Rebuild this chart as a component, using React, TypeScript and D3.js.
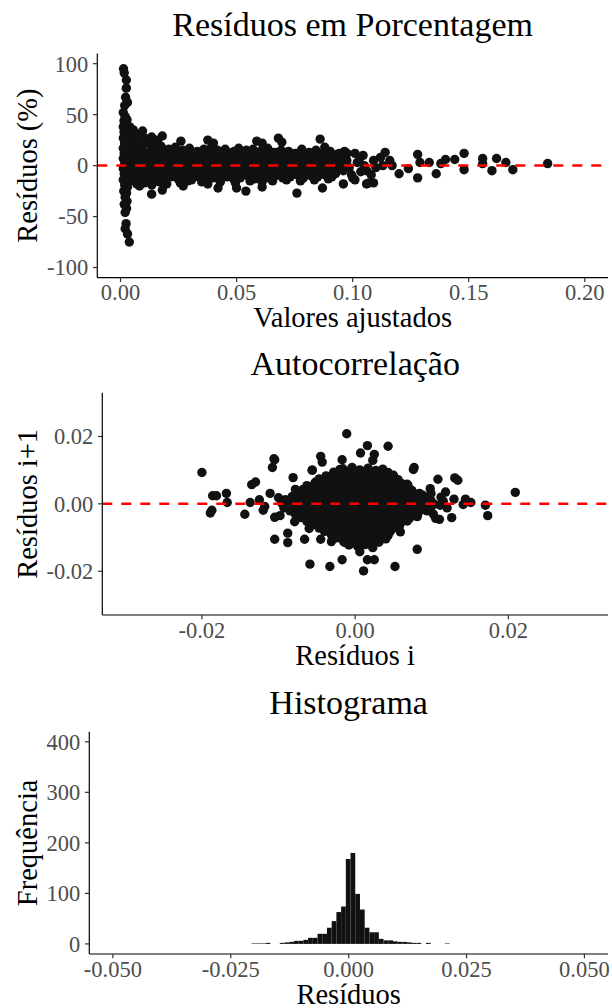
import React from 'react';
import * as d3 from 'd3';

const FONT = '"Liberation Serif", "Times New Roman", serif';
const TICK_TEXT = '#4d4d4d';
const DOT = '#111111';

// --- Panel 1: residuals (%) vs fitted values ---
const pctColumn: [number, number][] = [
  [0.0013, 95], [0.0016, 91], [0.0025, 84], [0.0025, 76], [0.0022, 67], [0.0018, 59], [0.003, 62],
  [0.0012, 52], [0.002, 48], [0.0015, 44], [0.0028, 45], [0.0012, 38], [0.0022, 40], [0.0035, 37],
  [0.0015, 33], [0.003, 32], [0.0045, 34], [0.0012, 27], [0.0024, 28], [0.004, 29], [0.0018, 22],
  [0.0032, 23], [0.005, 25], [0.0012, 17], [0.0026, 18], [0.0042, 19], [0.0016, 12], [0.003, 13],
  [0.005, 14], [0.0012, 7], [0.0024, 8], [0.0038, 9], [0.0018, 2], [0.0032, 3], [0.0048, 4],
  [0.0012, -3], [0.0026, -2], [0.004, -4], [0.0016, -8], [0.0032, -9], [0.0012, -14], [0.0026, -13],
  [0.004, -15], [0.0018, -19], [0.003, -21], [0.0014, -25], [0.0026, -27], [0.002, -31], [0.0028, -35],
  [0.0016, -38], [0.0026, -42], [0.002, -46], [0.0024, -57], [0.002, -62], [0.003, -67], [0.0038, -75],
  [0.004, 38], [0.0055, 35], [0.0072, 30], [0.0095, 34], [0.0068, 24], [0.0105, 27], [0.0134, 28],
  [0.016, 25], [0.018, 29], [0.0125, 22], [0.0085, 26], [0.015, 21],
];

const pctBand: [number, number][] = [
  [0.0062, 21], [0.0091, 18], [0.0118, 22], [0.0147, 17], [0.0175, 19], [0.0208, 16], [0.0236, 18],
  [0.0268, 15], [0.0297, 17], [0.0331, 14], [0.0359, 16], [0.0392, 18], [0.0418, 15], [0.0451, 16],
  [0.0483, 13], [0.0509, 17], [0.0542, 15], [0.0571, 16], [0.0603, 14], [0.0634, 17], [0.0659, 13],
  [0.0692, 15], [0.0724, 14], [0.0752, 12], [0.0781, 16], [0.0813, 13], [0.0842, 15], [0.0871, 12],
  [0.0903, 14], [0.0932, 11],
  [0.0055, 11], [0.0084, 9], [0.0112, 12], [0.0139, 8], [0.0171, 10], [0.0199, 9], [0.0228, 11],
  [0.0259, 8], [0.0288, 10], [0.0316, 9], [0.0347, 11], [0.0378, 8], [0.0405, 10], [0.0437, 9],
  [0.0466, 7], [0.0497, 10], [0.0525, 8], [0.0558, 9], [0.0587, 7], [0.0619, 10], [0.0648, 8],
  [0.0677, 9], [0.0709, 7], [0.0738, 9], [0.0768, 8], [0.0797, 6], [0.0828, 8], [0.0857, 7],
  [0.0889, 9], [0.0918, 6], [0.0948, 8],
  [0.0062, 3], [0.0093, 1], [0.0121, 4], [0.0152, 2], [0.0183, 0], [0.0212, 3], [0.0243, 1],
  [0.0274, 2], [0.0301, -1], [0.0334, 2], [0.0363, 0], [0.0394, 3], [0.0422, 1], [0.0453, -1],
  [0.0481, 2], [0.0512, 0], [0.0544, 1], [0.0573, -1], [0.0602, 2], [0.0636, 0], [0.0664, 1],
  [0.0695, -1], [0.0726, 2], [0.0755, 0], [0.0784, 1], [0.0816, -1], [0.0845, 1], [0.0874, 0],
  [0.0905, 2], [0.0936, -1],
  [0.0058, -5], [0.0087, -4], [0.0116, -6], [0.0144, -5], [0.0176, -7], [0.0204, -4], [0.0233, -6],
  [0.0263, -5], [0.0292, -7], [0.0322, -4], [0.0352, -6], [0.0383, -5], [0.0411, -7], [0.0441, -4],
  [0.0472, -6], [0.0501, -5], [0.0531, -7], [0.0562, -4], [0.0592, -6], [0.0623, -5], [0.0653, -4],
  [0.0683, -6], [0.0713, -5], [0.0743, -3], [0.0772, -5], [0.0803, -4], [0.0833, -6], [0.0861, -3],
  [0.0893, -5], [0.0924, -3], [0.0955, -4],
  [0.0065, -12], [0.0095, -11], [0.0125, -13], [0.0156, -12], [0.0187, -14], [0.0217, -11],
  [0.0248, -13], [0.0279, -12], [0.0306, -14], [0.0338, -11], [0.0368, -13], [0.0397, -12],
  [0.0426, -14], [0.0458, -11], [0.0487, -13], [0.0516, -12], [0.0548, -10], [0.0578, -13],
  [0.0607, -11], [0.0639, -12], [0.0668, -10], [0.0699, -12], [0.0731, -11], [0.076, -9],
  [0.0788, -12], [0.082, -10], [0.0849, -11], [0.088, -9], [0.091, -11],
  [0.007, -18], [0.0104, -17], [0.0135, -19], [0.0168, -16], [0.0199, -18], [0.0258, -17],
  [0.029, -15], [0.035, -16], [0.0376, -18], [0.043, -16], [0.0495, -17], [0.0558, -15],
  [0.061, -16], [0.0655, -15], [0.0715, -14], [0.0775, -15], [0.0835, -14], [0.0895, -13],
];

// interleaved points that sit between the rows above
const pctBandFill: [number, number][] = [
  [0.0075, 14], [0.0104, 13], [0.0133, 15], [0.0161, 12], [0.019, 14], [0.0221, 13], [0.0251, 12],
  [0.0282, 14], [0.031, 12], [0.0342, 13], [0.0371, 14], [0.0401, 12], [0.0431, 13], [0.0459, 12],
  [0.049, 14], [0.052, 12], [0.0553, 13], [0.058, 12], [0.0612, 13], [0.0641, 11], [0.0673, 13],
  [0.0702, 12], [0.0734, 11], [0.0763, 12], [0.0793, 10], [0.0825, 12], [0.0853, 10], [0.0884, 11],
  [0.0914, 10], [0.0943, 12],
  [0.0072, 6], [0.0101, 5], [0.0131, 7], [0.0163, 5], [0.0192, 6], [0.0222, 5], [0.0252, 6],
  [0.0283, 4], [0.0312, 6], [0.0341, 5], [0.0372, 6], [0.0402, 4], [0.0432, 6], [0.0462, 5],
  [0.0492, 4], [0.0521, 6], [0.055, 4], [0.0582, 5], [0.0612, 4], [0.0643, 6], [0.0671, 4],
  [0.0703, 5], [0.0732, 3], [0.0762, 5], [0.0791, 4], [0.0822, 3], [0.0851, 5], [0.0882, 3],
  [0.0912, 4], [0.0941, 3],
  [0.0077, -2], [0.0106, -1], [0.0136, -3], [0.0167, -2], [0.0196, -1], [0.0226, -3], [0.0257, -2],
  [0.0286, -2], [0.0315, -3], [0.0345, -1], [0.0375, -2], [0.0405, -1], [0.0436, -3], [0.0466, -2],
  [0.0495, -3], [0.0526, -1], [0.0556, -2], [0.0585, -3], [0.0616, -1], [0.0646, -2], [0.0677, -3],
  [0.0706, -2], [0.0738, -1], [0.0767, -2], [0.0797, -1], [0.0827, -3], [0.0858, -1], [0.0887, -2],
  [0.0917, -1], [0.0947, 0],
  [0.0078, -9], [0.0109, -8], [0.0139, -9], [0.0169, -10], [0.0201, -8], [0.023, -9], [0.0262, -10],
  [0.029, -8], [0.0321, -9], [0.0352, -10], [0.0382, -8], [0.0411, -9], [0.0442, -10], [0.0471, -8],
  [0.0502, -9], [0.0532, -8], [0.0563, -9], [0.0592, -8], [0.0622, -9], [0.0653, -8], [0.0683, -9],
  [0.0714, -7], [0.0745, -8], [0.0774, -7], [0.0804, -8], [0.0835, -7], [0.0866, -8], [0.0896, -7],
  [0.0926, -8],
];

const pctSparse: [number, number][] = [
  [0.026, 24], [0.0376, 25], [0.04, 22], [0.0587, 24], [0.061, 22], [0.068, 27], [0.0695, 23],
  [0.086, 26], [0.088, 18], [0.0134, -28], [0.018, -24], [0.0082, -20], [0.027, -20], [0.042, -22],
  [0.05, -22], [0.054, -25], [0.061, -21], [0.076, -27], [0.087, -22], [0.096, -18],
  [0.106, -18], [0.109, -17], [0.0976, 12], [0.101, 12], [0.114, 13], [0.128, 11], [0.128, -12],
  [0.129, 3], [0.133, 3], [0.136, -8], [0.138, 2], [0.14, 6], [0.144, 6], [0.148, 12], [0.148, -4],
  [0.156, 7], [0.156, 2], [0.16, -5], [0.162, 7], [0.166, 3], [0.169, -4], [0.184, 2], [0.12, -8],
  [0.124, -3], [0.117, 0], [0.113, 0], [0.112, 8], [0.109, 5], [0.103, 7], [0.105, 0], [0.107, -17],
  [0.106, -5], [0.096, -5], [0.1, -12], [0.116, 5], [0.0975, 5], [0.0985, -2], [0.0995, -9],
  [0.102, 3], [0.1035, -6], [0.1045, 10], [0.108, -9], [0.11, -2], [0.101, -14], [0.0965, 14],
];

// --- Panel 2: residual i vs residual i+1 ---
const lagCore: [number, number][] = [
  [-0.0016, 0.0104], [-0.0004, 0.0108], [0.0006, 0.0101], [0.0017, 0.0106], [0.0027, 0.0099], [0.0036, 0.0103],
  [-0.0038, 0.0083], [-0.0028, 0.0087], [-0.0019, 0.0081], [-0.0009, 0.0086], [0.0001, 0.0089],
  [0.0011, 0.0082], [0.002, 0.0087], [0.003, 0.0084], [0.0041, 0.008], [0.005, 0.0085],
  [-0.0052, 0.0064], [-0.0043, 0.0061], [-0.0033, 0.0066], [-0.0024, 0.0062], [-0.0014, 0.0067],
  [-0.0005, 0.0063], [0.0004, 0.0068], [0.0014, 0.0061], [0.0023, 0.0065], [0.0033, 0.0062],
  [0.0042, 0.0067], [0.0052, 0.0063], [0.0061, 0.006],
  [-0.0068, 0.0043], [-0.0059, 0.0047], [-0.0049, 0.0042], [-0.004, 0.0046], [-0.003, 0.0044],
  [-0.0021, 0.0041], [-0.0011, 0.0047], [-0.0002, 0.0043], [0.0008, 0.0046], [0.0017, 0.0042],
  [0.0027, 0.0047], [0.0036, 0.0044], [0.0046, 0.0041], [0.0055, 0.0046], [0.0065, 0.0043], [0.0074, 0.004],
  [-0.0082, 0.0022], [-0.0073, 0.0025], [-0.0063, 0.002], [-0.0054, 0.0024], [-0.0044, 0.0021],
  [-0.0035, 0.0026], [-0.0025, 0.0023], [-0.0016, 0.0019], [-0.0006, 0.0024], [0.0003, 0.0021],
  [0.0013, 0.0026], [0.0022, 0.0022], [0.0032, 0.0019], [0.0041, 0.0025], [0.0051, 0.0021],
  [0.006, 0.0024], [0.007, 0.002], [0.0079, 0.0023], [0.0089, 0.0019],
  [-0.0096, 0.0003], [-0.0087, -0.0001], [-0.0077, 0.0004], [-0.0068, 0.0], [-0.0058, 0.0003],
  [-0.0049, -0.0002], [-0.0039, 0.0002], [-0.003, -0.0001], [-0.002, 0.0004], [-0.0011, 0.0],
  [-0.0001, 0.0003], [0.0008, -0.0002], [0.0018, 0.0002], [0.0027, 0.0], [0.0037, 0.0004],
  [0.0046, -0.0001], [0.0056, 0.0002], [0.0065, -0.0002], [0.0075, 0.0003], [0.0084, 0.0],
  [0.0094, 0.0002], [0.0103, -0.0001],
  [-0.0085, -0.0021], [-0.0076, -0.0018], [-0.0066, -0.0023], [-0.0057, -0.0019], [-0.0047, -0.0022],
  [-0.0038, -0.0017], [-0.0028, -0.0021], [-0.0019, -0.0024], [-0.0009, -0.0019], [0.0, -0.0022],
  [0.001, -0.0018], [0.0019, -0.0023], [0.0029, -0.002], [0.0038, -0.0017], [0.0048, -0.0022],
  [0.0057, -0.0019], [0.0067, -0.0023], [0.0076, -0.002], [0.0086, -0.0018],
  [-0.0071, -0.0041], [-0.0062, -0.0044], [-0.0052, -0.0039], [-0.0043, -0.0043], [-0.0033, -0.004],
  [-0.0024, -0.0045], [-0.0014, -0.0041], [-0.0005, -0.0038], [0.0005, -0.0043], [0.0014, -0.004],
  [0.0024, -0.0044], [0.0033, -0.0039], [0.0043, -0.0042], [0.0052, -0.0045], [0.0062, -0.0041], [0.0071, -0.0043],
  [-0.0055, -0.0062], [-0.0046, -0.0059], [-0.0036, -0.0064], [-0.0027, -0.006], [-0.0017, -0.0063],
  [-0.0008, -0.0058], [0.0002, -0.0062], [0.0011, -0.0065], [0.0021, -0.0061], [0.003, -0.0058],
  [0.004, -0.0063], [0.0049, -0.006], [0.0058, -0.0064],
  [-0.004, -0.0082], [-0.003, -0.0085], [-0.0021, -0.008], [-0.0011, -0.0084], [-0.0002, -0.0081],
  [0.0008, -0.0086], [0.0017, -0.0082], [0.0027, -0.0079], [0.0036, -0.0084], [0.0046, -0.0081],
  [-0.0024, -0.0101], [-0.0014, -0.0105], [-0.0005, -0.01], [0.0005, -0.0104], [0.0014, -0.0099],
  [0.0024, -0.0103], [0.0033, -0.0106],
  [-0.0008, -0.0122], [0.0003, -0.0125], [0.0013, -0.0121], [0.0022, -0.0124],
];

// interleaved points filling the dense centre of the cloud
const lagCoreFill: [number, number][] = [
  [-0.0028, 0.0094], [-0.001, 0.0096], [0.0001, 0.0093], [0.0012, 0.0095], [0.0022, 0.0092],
  [0.0032, 0.0096], [0.0043, 0.0093],
  [-0.0047, 0.0074], [-0.0038, 0.0072], [-0.0028, 0.0076], [-0.0019, 0.0073], [-0.001, 0.0075],
  [0.0, 0.0072], [0.0009, 0.0076], [0.0019, 0.0074], [0.0028, 0.0071], [0.0038, 0.0075],
  [0.0047, 0.0073], [0.0056, 0.0072],
  [-0.0063, 0.0054], [-0.0054, 0.0056], [-0.0045, 0.0052], [-0.0035, 0.0055], [-0.0026, 0.0053],
  [-0.0016, 0.0056], [-0.0007, 0.0052], [0.0003, 0.0055], [0.0012, 0.0053], [0.0022, 0.0056],
  [0.0031, 0.0052], [0.0041, 0.0054], [0.005, 0.0056], [0.006, 0.0052], [0.0069, 0.0054],
  [-0.0077, 0.0033], [-0.0068, 0.0031], [-0.0058, 0.0034], [-0.0049, 0.0032], [-0.0039, 0.0035],
  [-0.003, 0.0031], [-0.002, 0.0033], [-0.0011, 0.0034], [-0.0001, 0.0031], [0.0008, 0.0035],
  [0.0018, 0.0032], [0.0027, 0.0034], [0.0037, 0.0031], [0.0046, 0.0033], [0.0056, 0.0035],
  [0.0065, 0.0032], [0.0075, 0.0034], [0.0084, 0.0031],
  [-0.0091, 0.0012], [-0.0082, 0.0011], [-0.0072, 0.0014], [-0.0063, 0.0011], [-0.0053, 0.0013],
  [-0.0044, 0.001], [-0.0034, 0.0013], [-0.0025, 0.0011], [-0.0015, 0.0014], [-0.0006, 0.0012],
  [0.0004, 0.001], [0.0013, 0.0013], [0.0023, 0.0011], [0.0032, 0.0014], [0.0042, 0.0012],
  [0.0051, 0.001], [0.0061, 0.0013], [0.007, 0.0011], [0.008, 0.0014], [0.0089, 0.0012], [0.0099, 0.001],
  [-0.0091, -0.001], [-0.0081, -0.0012], [-0.0072, -0.0009], [-0.0062, -0.0011], [-0.0053, -0.0008],
  [-0.0043, -0.0012], [-0.0034, -0.001], [-0.0024, -0.0013], [-0.0015, -0.0009], [-0.0005, -0.0011],
  [0.0004, -0.0013], [0.0014, -0.0009], [0.0023, -0.0011], [0.0033, -0.0008], [0.0042, -0.0012],
  [0.0052, -0.001], [0.0061, -0.0013], [0.0071, -0.0009], [0.008, -0.0011], [0.009, -0.0012], [0.0099, -0.0009],
  [-0.0078, -0.0031], [-0.0069, -0.0029], [-0.0059, -0.0032], [-0.005, -0.003], [-0.004, -0.0033],
  [-0.0031, -0.0029], [-0.0021, -0.0031], [-0.0012, -0.0034], [-0.0002, -0.003], [0.0007, -0.0032],
  [0.0017, -0.0029], [0.0026, -0.0033], [0.0036, -0.0031], [0.0045, -0.0028], [0.0055, -0.0032],
  [0.0064, -0.003], [0.0074, -0.0033], [0.0082, -0.0029],
  [-0.0063, -0.0052], [-0.0053, -0.0054], [-0.0044, -0.005], [-0.0034, -0.0053], [-0.0025, -0.0051],
  [-0.0015, -0.0055], [-0.0006, -0.0052], [0.0004, -0.0049], [0.0013, -0.0053], [0.0023, -0.0051],
  [0.0032, -0.0054], [0.0042, -0.0052], [0.0051, -0.005], [0.0061, -0.0053], [0.0068, -0.0051],
  [-0.0047, -0.0072], [-0.0038, -0.0074], [-0.0028, -0.007], [-0.0019, -0.0073], [-0.0009, -0.0071],
  [0.0, -0.0075], [0.001, -0.0072], [0.0019, -0.007], [0.0029, -0.0073], [0.0038, -0.0071],
  [0.0048, -0.0074], [0.0055, -0.0071],
  [-0.0031, -0.0092], [-0.0021, -0.0094], [-0.0012, -0.009], [-0.0002, -0.0093], [0.0007, -0.0095],
  [0.0017, -0.0091], [0.0026, -0.0093], [0.0036, -0.009], [0.0043, -0.0094],
  [-0.0015, -0.0112], [-0.0005, -0.0114], [0.0004, -0.011], [0.0014, -0.0113], [0.0024, -0.0111],
  [0.0031, -0.0114],
];

const lagOuter: [number, number][] = [
  [-0.02, 0.0093], [-0.0186, 0.0024], [-0.0181, 0.0024], [-0.0168, 0.0031], [-0.0167, 0.0004],
  [-0.0189, -0.0027], [-0.0187, -0.0019], [-0.0144, -0.0031], [-0.0135, 0.0057], [-0.013, 0.0065],
  [-0.0137, 0.0004], [-0.012, -0.0019], [-0.0111, 0.0031], [-0.0105, 0.0131], [-0.0108, 0.0108],
  [-0.0105, -0.004], [-0.0105, -0.0105], [-0.0088, -0.0087], [-0.0088, -0.0115], [-0.0081, 0.0078],
  [-0.0079, -0.0053], [-0.0078, 0.0043], [-0.0066, -0.0105], [-0.006, -0.0073], [-0.0059, -0.0179],
  [-0.0056, 0.01], [-0.0045, 0.0141], [-0.0043, 0.0124], [-0.0045, -0.0105], [-0.0033, -0.0186],
  [-0.0031, -0.0112], [-0.0017, -0.0166], [-0.0017, 0.0131], [-0.002, 0.0102], [-0.0011, 0.0208],
  [-0.0013, -0.0115], [0.0016, 0.0173], [0.0043, 0.0171], [0.0007, 0.0151], [0.0025, 0.0147],
  [0.0077, 0.0108], [0.0076, 0.0102], [0.0023, 0.0129], [0.0032, 0.0095], [0.0108, 0.0073],
  [0.013, 0.0077], [0.0134, 0.007], [0.0118, 0.0035], [0.0209, 0.0034], [0.0129, 0.0014],
  [0.0144, 0.0014], [0.0151, 0.0004], [0.0141, -0.0002], [0.017, -0.0004], [0.0173, -0.0035],
  [0.011, -0.0046], [0.0126, -0.0041], [0.0081, -0.0038], [0.0111, -0.0004], [0.0081, -0.0135],
  [0.0052, -0.0186], [0.0011, -0.0199], [0.0016, -0.0166], [0.0025, -0.0166], [0.0006, -0.0142],
  [0.0023, -0.013], [0.004, -0.0104], [0.0059, -0.0083], [0.0094, -0.0021], [0.0099, 0.0031],
  [0.0088, 0.0026], [0.0068, 0.0058], [0.0051, 0.007], [-0.0106, 0.0134], [-0.0056, 0.01],
  [0.0105, -0.0043], [-0.0125, 0.0012], [-0.0118, -0.0008], [-0.01, 0.0018], [-0.0093, -0.0012],
  [-0.0098, -0.0035], [0.0112, 0.002], [0.012, -0.0012], [0.0098, 0.0045], [0.0102, -0.003], [0.0115, 0.0008],
];

// --- Panel 3: histogram of residuals ---
const histBinStart = -0.0206;
const histBinWidth = 0.001;
const histCounts = [
  1, 1, 1, 2, 0, 0, 2, 3, 4, 6, 6, 8, 12, 12, 20, 20, 32, 45, 63, 74, 168,
  180, 99, 68, 32, 23, 23, 10, 7, 7, 5, 4, 4, 3, 2, 2, 0, 2, 0, 0, 0, 1,
];

const p1XTicks = [0, 0.05, 0.1, 0.15, 0.2];
const p1YTicks = [-100, -50, 0, 50, 100];
const p2Ticks = [-0.02, 0, 0.02];
const p3XTicks = [-0.05, -0.025, 0, 0.025, 0.05];
const p3YTicks = [0, 100, 200, 300, 400];

type Box = { left: number; right: number; top: number; bottom: number };

function Axes({ box, x, y, xTicks, yTicks, xFmt, yFmt, title, xLabel, yLabel }: any) {
  const tick = 4.3;
  const cx = (box.left + box.right) / 2;
  const cy = (box.top + box.bottom) / 2;
  return (
    <g fontFamily={FONT}>
      <line x1={box.left} x2={box.right} y1={box.bottom} y2={box.bottom} stroke="#000" strokeWidth={1.2} />
      <line x1={box.left} x2={box.left} y1={box.top} y2={box.bottom} stroke="#000" strokeWidth={1.2} />
      {xTicks.map((t: number) => (
        <g key={'x' + t}>
          <line x1={x(t)} x2={x(t)} y1={box.bottom} y2={box.bottom + tick} stroke="#333" strokeWidth={1.2} />
          <text x={x(t)} y={box.bottom + 22.5} textAnchor="middle" fontSize={22.5} fill={TICK_TEXT}>{xFmt(t)}</text>
        </g>
      ))}
      {yTicks.map((t: number) => (
        <g key={'y' + t}>
          <line x1={box.left - tick} x2={box.left} y1={y(t)} y2={y(t)} stroke="#333" strokeWidth={1.2} />
          <text x={box.left - 9} y={y(t)} dy="0.35em" textAnchor="end" fontSize={22.5} fill={TICK_TEXT}>{yFmt(t)}</text>
        </g>
      ))}
      <text x={cx} y={box.bottom + 49.5} textAnchor="middle" fontSize={28.5} fill="#000">{xLabel}</text>
      <text transform={`translate(37,${cy}) rotate(-90)`} textAnchor="middle" fontSize={28.5} fill="#000">{yLabel}</text>
      <text x={cx} y={box.top - 18} textAnchor="middle" fontSize={34} fill="#000">{title}</text>
    </g>
  );
}

function ScatterPanel({ box, xDomain, yDomain, points, ...rest }: any) {
  const x = d3.scaleLinear().domain(xDomain).range([box.left, box.right]);
  const y = d3.scaleLinear().domain(yDomain).range([box.bottom, box.top]);
  return (
    <g>
      {points.map((p: [number, number], i: number) => (
        <circle key={i} cx={x(p[0])} cy={y(p[1])} r={4.7} fill={DOT} />
      ))}
      <line x1={box.left} x2={box.right} y1={y(0)} y2={y(0)} stroke="#ff0000" strokeWidth={2.5} strokeDasharray="10,9" />
      <Axes box={box} x={x} y={y} {...rest} />
    </g>
  );
}

function HistPanel({ box }: { box: Box }) {
  const x = d3.scaleLinear().domain([-0.055, 0.055]).range([box.left, box.right]);
  const y = d3.scaleLinear().domain([-20, 420]).range([box.bottom, box.top]);
  return (
    <g>
      {histCounts.map((c, i) => {
        if (c === 0) return null;
        const x0 = histBinStart + i * histBinWidth;
        return (
          <rect key={i} x={x(x0)} width={x(x0 + histBinWidth) - x(x0)} y={y(c)} height={y(0) - y(c)} fill={DOT} />
        );
      })}
      <Axes
        box={box} x={x} y={y}
        xTicks={p3XTicks} yTicks={p3YTicks}
        xFmt={(d: number) => d.toFixed(3)} yFmt={(d: number) => String(d)}
        title="Histograma" xLabel="Resíduos" yLabel="Frequência"
      />
    </g>
  );
}

export default function App() {
  const box1 = { left: 97.3, right: 608, top: 53.5, bottom: 277.7 };
  const box2 = { left: 102.3, right: 608, top: 392.7, bottom: 615 };
  const box3 = { left: 89.3, right: 608, top: 731.7, bottom: 954 };
  return (
    <svg width={612} height={1008} style={{ position: 'absolute', left: 0, top: 0, background: '#fff' }}>
      <rect width={612} height={1008} fill="#fff" />
      <ScatterPanel
        box={box1} xDomain={[-0.01, 0.21]} yDomain={[-110, 110]}
        points={[...pctColumn, ...pctBand, ...pctBandFill, ...pctSparse]}
        xTicks={p1XTicks} yTicks={p1YTicks}
        xFmt={(d: number) => d.toFixed(2)} yFmt={(d: number) => String(d)}
        title="Resíduos em Porcentagem" xLabel="Valores ajustados" yLabel="Resíduos (%)"
      />
      <ScatterPanel
        box={box2} xDomain={[-0.033, 0.033]} yDomain={[-0.033, 0.033]}
        points={[...lagCore, ...lagCoreFill, ...lagOuter]}
        xTicks={p2Ticks} yTicks={p2Ticks}
        xFmt={(d: number) => d.toFixed(2)} yFmt={(d: number) => d.toFixed(2)}
        title="Autocorrelação" xLabel="Resíduos i" yLabel="Resíduos i+1"
      />
      <HistPanel box={box3} />
    </svg>
  );
}
